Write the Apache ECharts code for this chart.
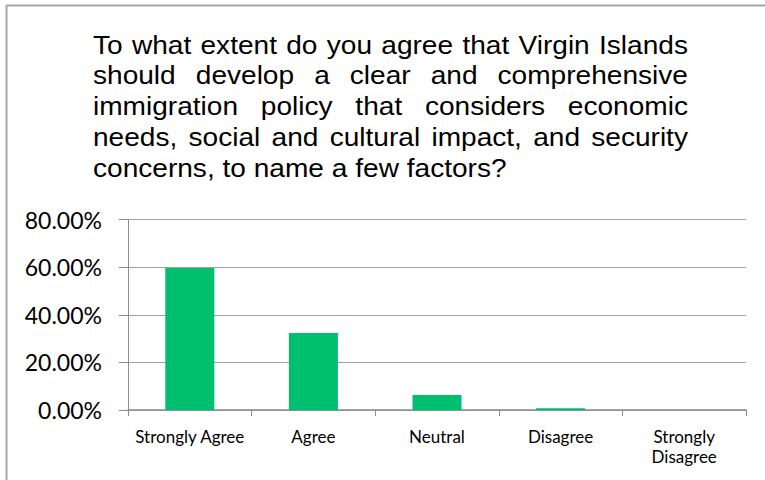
<!DOCTYPE html>
<html>
<head>
<meta charset="utf-8">
<script src="https://cdn.jsdelivr.net/npm/echarts@6/dist/echarts.min.js"></script>
<style>
  html, body { margin: 0; padding: 0; background: #ffffff; }
  #chart { width: 765px; height: 480px; }
</style>
</head>
<body>
<div id="chart"></div>
<script>
// Survey responses (share of respondents, %)
var categories = ['Strongly Agree', 'Agree', 'Neutral', 'Disagree', 'Strongly\nDisagree'];
var shares = [59.6, 32.3, 6.3, 0.7, 0];

// Y axis ticks: 0.00% .. 80.00% every 20
var yMin = 0;
var yMax = 80;
var yStep = 20;

// Question text, one entry per printed line
var titleLines = [
  'To what extent do you agree that Virgin Islands',
  'should develop a clear and comprehensive',
  'immigration policy that considers economic',
  'needs, social and cultural impact, and security',
  'concerns, to name a few factors?'
];

var titleSize = 26;
var titleStretch = 1.08;
var titleFont = titleSize + 'px "Liberation Sans", Arial, sans-serif';
var titleLeft = 93;
var titleRight = 688;
var firstMid = 45;
var lineGap = 30.8;

// Lay the question out as justified text (last line left aligned)
function justifiedTitle() {
  var ctx = document.createElement('canvas').getContext('2d');
  ctx.font = titleFont;
  var items = [];
  titleLines.forEach(function (line, li) {
    var words = line.split(' ');
    var mid = firstMid + li * lineGap;
    var widths = words.map(function (w) { return ctx.measureText(w).width * titleStretch; });
    var total = widths.reduce(function (a, b) { return a + b; }, 0);
    var last = li === titleLines.length - 1;
    var gap = last || words.length < 2
      ? ctx.measureText(' ').width * titleStretch
      : (titleRight - titleLeft - total) / (words.length - 1);
    var x = titleLeft;
    words.forEach(function (w, wi) {
      items.push({
        type: 'text',
        silent: true,
        x: x,
        y: mid,
        scaleX: titleStretch,
        scaleY: 1.0,
        style: {
          text: w,
          x: 0,
          y: 0,
          font: titleFont,
          fill: '#000000',
          align: 'left',
          verticalAlign: 'middle'
        }
      });
      x += widths[wi] + gap;
    });
  });
  return items;
}

var chart = echarts.init(document.getElementById('chart'), null, { renderer: 'svg' });

var frame = [
  { type: 'line', silent: true, shape: { x1: 6.5, y1: 5, x2: 6.5, y2: 480 }, style: { stroke: '#a6a6a6', lineWidth: 2 } },
  { type: 'line', silent: true, shape: { x1: 6, y1: 5.5, x2: 765, y2: 5.5 }, style: { stroke: '#a6a6a6', lineWidth: 2 } }
];

chart.setOption({
  animation: false,
  backgroundColor: '#ffffff',
  graphic: frame.concat(justifiedTitle()),
  grid: { left: 128, right: 19, top: 219.5, bottom: 70, containLabel: false },
  xAxis: {
    type: 'category',
    data: categories,
    axisLine: { show: true, lineStyle: { color: '#8c8c8c', width: 1.5 } },
    axisTick: { show: true, length: 6, alignWithLabel: false, lineStyle: { color: '#8c8c8c', width: 1 } },
    axisLabel: {
      interval: 0,
      margin: 16,
      fontFamily: 'Lato, "Open Sans", sans-serif',
      fontSize: 17,
      lineHeight: 20,
      color: '#000000'
    },
    splitLine: { show: false }
  },
  yAxis: {
    type: 'value',
    min: yMin,
    max: yMax,
    interval: yStep,
    axisLine: { show: true, lineStyle: { color: '#8c8c8c', width: 1 } },
    axisTick: { show: true, length: 9, lineStyle: { color: '#8c8c8c', width: 1 } },
    axisLabel: {
      margin: 26,
      fontFamily: 'Lato, "Open Sans", sans-serif',
      fontSize: 23,
      color: '#000000',
      formatter: function (v) { return v.toFixed(2) + '%'; }
    },
    splitLine: { show: true, lineStyle: { color: '#a0a0a0', width: 1.2 } }
  },
  series: [{
    type: 'bar',
    data: shares,
    barWidth: 49,
    itemStyle: { color: '#00bf6f' }
  }]
});
</script>
</body>
</html>
